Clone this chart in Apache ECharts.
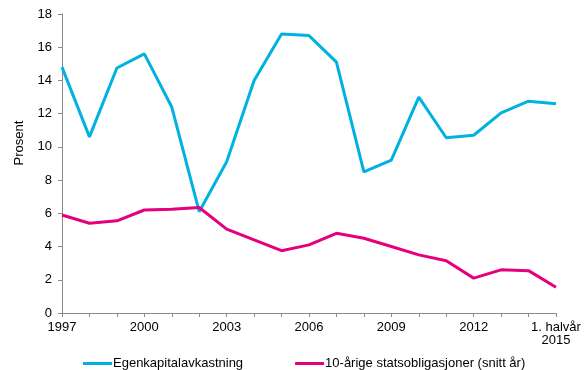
<!DOCTYPE html>
<html>
<head>
<meta charset="utf-8">
<script src="https://cdn.jsdelivr.net/npm/echarts@6/dist/echarts.min.js"></script>
<style>
  html, body { margin: 0; padding: 0; background: #fff; }
  #chart { width: 587px; height: 370px; }
</style>
</head>
<body>
<div id="chart"></div>
<script>
// årstall (siste punkt er 1. halvår 2015)
const years = ['1997', '1998', '1999', '2000', '2001', '2002', '2003', '2004', '2005', '2006',
    '2007', '2008', '2009', '2010', '2011', '2012', '2013', '2014', '1. halvår\n2015'];

// Egenkapitalavkastning (prosent)
const egenkapital = [14.8, 10.6, 14.75, 15.6, 12.4, 6.1, 9.1, 14.0, 16.8, 16.7,
    15.1, 8.5, 9.2, 13.0, 10.55, 10.7, 12.05, 12.75, 12.6];

// 10-årige statsobligasjoner, snitt år (prosent)
const statsobl = [5.9, 5.4, 5.55, 6.2, 6.25, 6.35, 5.05, 4.4, 3.75, 4.1,
    4.8, 4.5, 4.0, 3.5, 3.15, 2.1, 2.6, 2.55, 1.55];

const seriesNames = ['Egenkapitalavkastning', '10-årige statsobligasjoner (snitt år)'];

const font = 'Arial, "Liberation Sans", sans-serif';
const axisColor = '#898989';
const fs = 13;

const chart = echarts.init(document.getElementById('chart'));
chart.setOption({
    animation: false,
    textStyle: { fontFamily: font },
    grid: { left: 62, right: 31, top: 14, bottom: 57 },
    // y-akse tittel
    graphic: [{
        type: 'text',
        x: 19,
        y: 143,
        rotation: Math.PI / 2,
        style: {
            text: 'Prosent',
            font: fs + 'px ' + font,
            fill: '#000',
            textAlign: 'center',
            textVerticalAlign: 'middle'
        }
    }],
    legend: {
        data: seriesNames,
        left: 78,
        top: 352,
        icon: 'rect',
        itemWidth: 29,
        itemHeight: 3,
        itemGap: 52,
        textStyle: { fontSize: fs, color: '#000', fontFamily: font, padding: [0, 0, 0, -4] }
    },
    xAxis: {
        type: 'category',
        data: years,
        boundaryGap: false,
        axisLine: { lineStyle: { color: axisColor, width: 1 } },
        axisTick: { show: true, interval: 0, length: 4, lineStyle: { color: axisColor } },
        axisLabel: {
            interval: 2,
            fontSize: fs,
            color: '#000',
            fontFamily: font,
            margin: 8,
            lineHeight: 13
        },
        splitLine: { show: false }
    },
    yAxis: {
        type: 'value',
        min: 0,
        max: 18,
        interval: 2,
        axisLine: { show: true, lineStyle: { color: axisColor, width: 1 } },
        axisTick: { show: true, length: 4, lineStyle: { color: axisColor } },
        axisLabel: { fontSize: fs, color: '#000', fontFamily: font, margin: 10 },
        splitLine: { show: false }
    },
    series: [
        {
            name: seriesNames[0],
            type: 'line',
            data: egenkapital,
            showSymbol: false,
            symbol: 'none',
            lineStyle: { width: 3, color: '#00B2E0' },
            itemStyle: { color: '#00B2E0' }
        },
        {
            name: seriesNames[1],
            type: 'line',
            data: statsobl,
            showSymbol: false,
            symbol: 'none',
            lineStyle: { width: 3, color: '#E5007D' },
            itemStyle: { color: '#E5007D' }
        }
    ]
});
</script>
</body>
</html>
